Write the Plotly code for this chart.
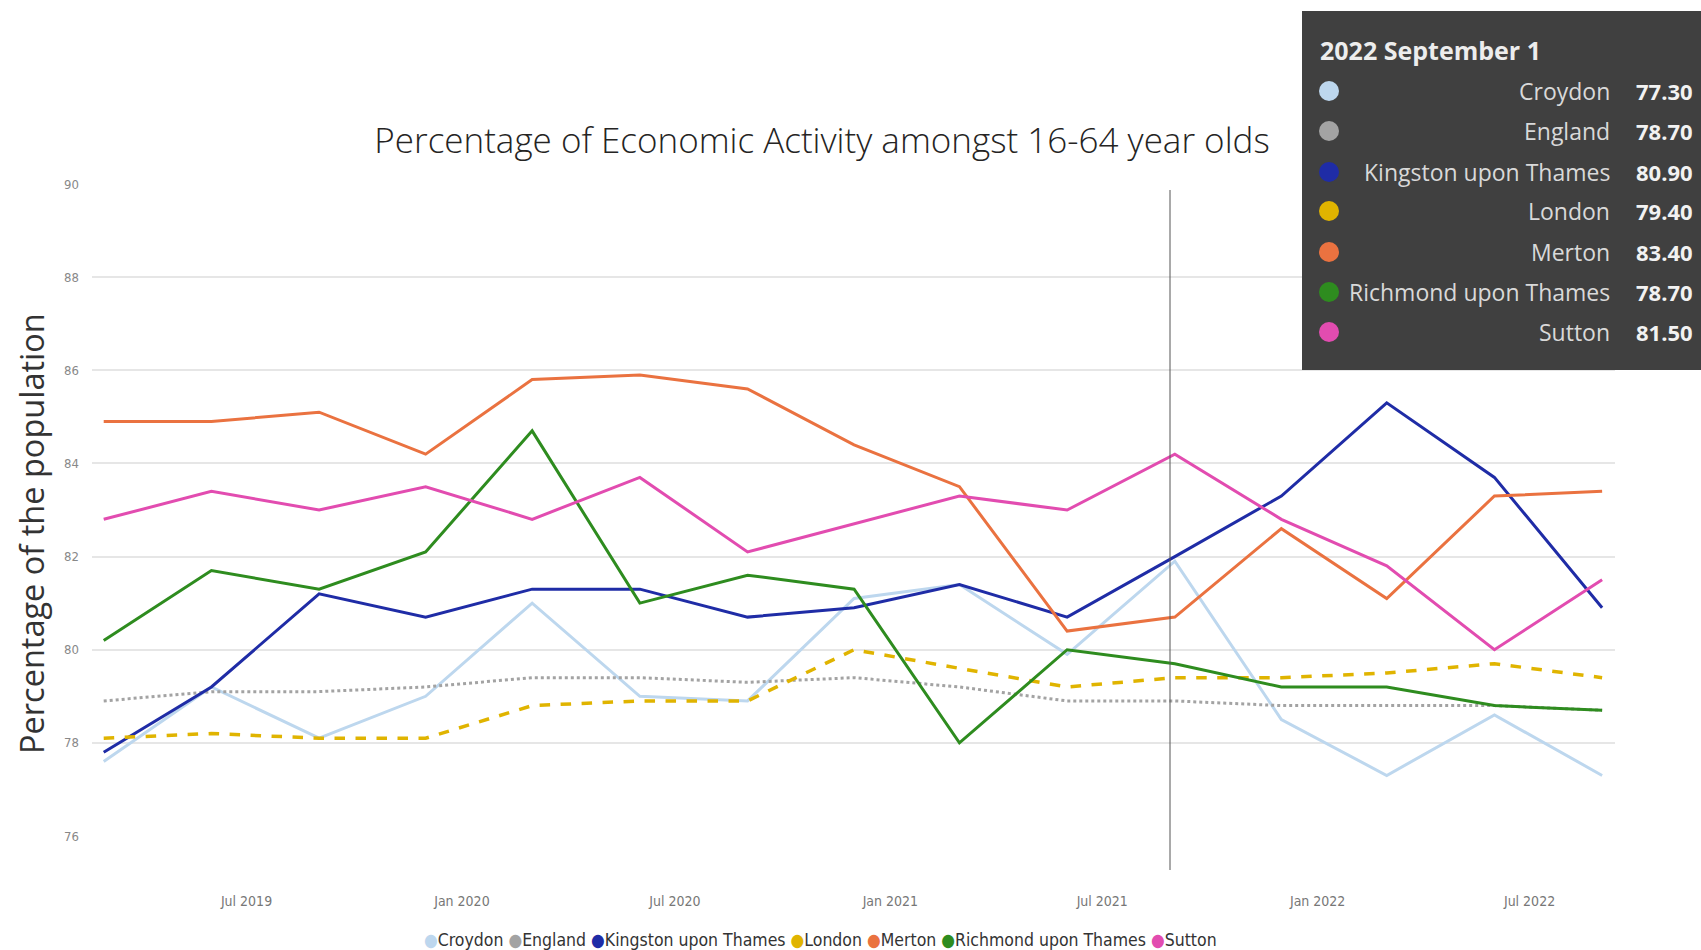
import datetime as dt
import plotly.graph_objects as go

# Quarterly observation dates
dates = ["2019-03-01", "2019-06-01", "2019-09-01", "2019-12-01",
         "2020-03-01", "2020-06-01", "2020-09-01", "2020-12-01",
         "2021-03-01", "2021-06-01", "2021-09-01", "2021-12-01",
         "2022-03-01", "2022-06-01", "2022-09-01"]

# Economic activity rate (%) of 16-64 year olds
croydon = [77.6, 79.2, 78.1, 79.0, 81.0, 79.0, 78.9, 81.1, 81.4, 79.9, 81.9, 78.5, 77.3, 78.6, 77.3]
england = [78.9, 79.1, 79.1, 79.2, 79.4, 79.4, 79.3, 79.4, 79.2, 78.9, 78.9, 78.8, 78.8, 78.8, 78.7]
kingston = [77.8, 79.2, 81.2, 80.7, 81.3, 81.3, 80.7, 80.9, 81.4, 80.7, 82.0, 83.3, 85.3, 83.7, 80.9]
london = [78.1, 78.2, 78.1, 78.1, 78.8, 78.9, 78.9, 80.0, 79.6, 79.2, 79.4, 79.4, 79.5, 79.7, 79.4]
merton = [84.9, 84.9, 85.1, 84.2, 85.8, 85.9, 85.6, 84.4, 83.5, 80.4, 80.7, 82.6, 81.1, 83.3, 83.4]
richmond = [80.2, 81.7, 81.3, 82.1, 84.7, 81.0, 81.6, 81.3, 78.0, 80.0, 79.7, 79.2, 79.2, 78.8, 78.7]
sutton = [82.8, 83.4, 83.0, 83.5, 82.8, 83.7, 82.1, 82.7, 83.3, 83.0, 84.2, 82.8, 81.8, 80.0, 81.5]

names = ["Croydon", "England", "Kingston upon Thames", "London", "Merton",
         "Richmond upon Thames", "Sutton"]
values = [croydon, england, kingston, london, merton, richmond, sutton]
colors = ["#BDD7EE", "#A3A3A3", "#1F2CA6", "#E0B400", "#EA7240", "#2E8C1F", "#E24CB0"]
dashes = ["solid", "dot", "solid", "dash", "solid", "solid", "solid"]
widths = [3, 3, 3, 3.5, 3, 3, 3]

y_ticks = [76, 78, 80, 82, 84, 86, 88, 90]
title_text = "Percentage of Economic Activity amongst 16-64 year olds"
y_title = "Percentage of the population"

W, H = 1701, 950
ML, MR, MT, MB = 92, 86, 184, 114
PW, PH = W - ML - MR, H - MT - MB


def px(xp):
    return (xp - ML) / PW


def py(yp):
    return (H - MB - yp) / PH


fig = go.Figure()
for n, v, c, d, w in zip(names, values, colors, dashes, widths):
    fig.add_trace(go.Scatter(x=dates, y=v, name=n, mode="lines",
                             line=dict(color=c, dash=d, width=w),
                             showlegend=False))

narrow = "Liberation Sans Narrow, DejaVu Sans Condensed, sans-serif"

fig.update_layout(
    width=W, height=H,
    margin=dict(l=ML, r=MR, t=MT, b=MB),
    paper_bgcolor="white", plot_bgcolor="white",
    title=dict(text=title_text, x=822 / W, xanchor="center",
               y=1 - 141 / H, yanchor="middle", yref="container",
               font=dict(family="Open Sans", size=35, color="#252423", weight=300)),
    xaxis=dict(type="date", range=["2019-02-19", "2022-09-12"],
               tickformat="%b %Y", dtick="M6", tick0="2019-07-01",
               showgrid=False, zeroline=False, showline=False, ticks="",
               ticklabelstandoff=55,
               tickfont=dict(family=narrow, size=14, color="#777777")),
    yaxis=dict(range=[76, 90], tickvals=y_ticks, showgrid=True,
               gridcolor="#E6E6E6", gridwidth=1.5, zeroline=False,
               showline=False, ticks="", ticklabelstandoff=12,
               tickfont=dict(family=narrow, size=13, color="#888888")),
)

# Vertical axis title
fig.add_annotation(text=y_title, textangle=-90, xref="paper", yref="paper",
                   x=px(31), y=py(534), xanchor="center", yanchor="middle",
                   showarrow=False,
                   font=dict(family="Open Sans", size=32.5, color="#333333"))

# Legend row with coloured dots
legend_html = "".join(
    f"<span style='color:{c}'>●</span>{n} " for n, c in zip(names, colors)
).strip()
fig.add_annotation(text=legend_html, xref="paper", yref="paper",
                   x=px(820), y=py(940), xanchor="center", yanchor="middle",
                   showarrow=False,
                   font=dict(family=narrow, size=17.5, color="#333333"))

# Hover cross-line
fig.add_shape(type="line", xref="paper", yref="paper", x0=px(1170), x1=px(1170),
              y0=py(190), y1=py(870), line=dict(color="#555555", width=1),
              layer="above")

# Tooltip box for the latest date
fig.add_shape(type="rect", xref="paper", yref="paper",
              x0=px(1302), x1=px(1705), y0=py(370), y1=py(11),
              fillcolor="rgba(58,58,58,0.97)", line=dict(width=0), layer="above")

d_last = dt.date.fromisoformat(dates[-1])
tip_title = f"{d_last.year} {d_last.strftime('%B')} {d_last.day}"
fig.add_annotation(text=f"<b>{tip_title}</b>", xref="paper", yref="paper",
                   x=px(1318), y=py(50), xanchor="left", yanchor="middle",
                   showarrow=False,
                   font=dict(family="Open Sans", size=25, color="#EDEDED"))

row_y = [91, 131, 172, 211, 252, 292, 332]
for n, v, c, ry in zip(names, values, colors, row_y):
    fig.add_shape(type="circle", xref="paper", yref="paper",
                  xsizemode="pixel", ysizemode="pixel",
                  xanchor=px(1329), yanchor=py(ry),
                  x0=-10, x1=10, y0=-10, y1=10,
                  fillcolor=c, line=dict(width=0), layer="above")
    fig.add_annotation(text=n, xref="paper", yref="paper",
                       x=px(1612), y=py(ry), xanchor="right", yanchor="middle",
                       showarrow=False,
                       font=dict(family="Open Sans", size=23, color="#D9D9D9"))
    fig.add_annotation(text=f"<b>{v[-1]:.2f}</b>", xref="paper", yref="paper",
                       x=px(1695), y=py(ry), xanchor="right", yanchor="middle",
                       showarrow=False,
                       font=dict(family="Open Sans", size=22, color="#F2F2F2"))

fig.write_html("out.html")
